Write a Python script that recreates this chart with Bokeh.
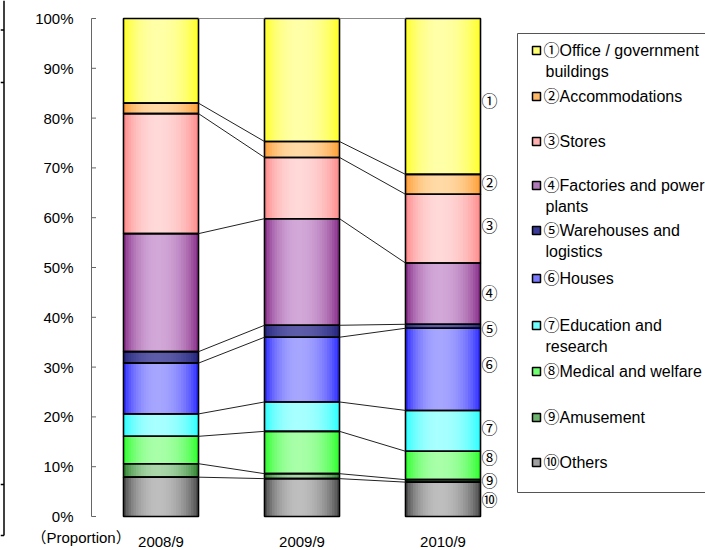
import numpy as np
from bokeh.plotting import figure
from bokeh.models import Range1d, ColumnDataSource
from bokeh.core.properties import value
from bokeh.embed import file_html
from bokeh.resources import INLINE

# ---------------- data (percent of total) ----------------
categories = ["2008/9", "2009/9", "2010/9"]
office = [17.0, 24.7, 31.3]          # ① Office / government buildings
accommodations = [2.1, 3.2, 4.0]     # ②
stores = [24.1, 12.3, 13.8]          # ③
factories = [23.7, 21.4, 12.3]       # ④
warehouses = [2.3, 2.4, 0.8]         # ⑤
houses = [10.2, 13.0, 16.5]          # ⑥
education = [4.5, 5.9, 8.2]          # ⑦
medical = [5.5, 8.5, 5.7]            # ⑧
amusement = [2.7, 1.0, 0.5]          # ⑨
others = [7.9, 7.6, 6.9]             # ⑩

y_ticks = [0, 10, 20, 30, 40, 50, 60, 70, 80, 90, 100]
y_tick_labels = ["0%", "10%", "20%", "30%", "40%", "50%", "60%", "70%", "80%", "90%", "100%"]
y_axis_title = "（Proportion）"
circled = ["①", "②", "③", "④", "⑤", "⑥", "⑦", "⑧", "⑨", "⑩"]
legend_lines = [
    ["①Office / government", "buildings"],
    ["②Accommodations"],
    ["③Stores"],
    ["④Factories and power", "plants"],
    ["⑤Warehouses and", "logistics"],
    ["⑥Houses"],
    ["⑦Education and", "research"],
    ["⑧Medical and welfare"],
    ["⑨Amusement"],
    ["⑩Others"],
]

# series listed top (①) to bottom (⑩)
series = [office, accommodations, stores, factories, warehouses,
          houses, education, medical, amusement, others]

# ---------------- styles ----------------
edge_cols = ["#FFFF14", "#FF9526", "#FF8080", "#7E1E7E", "#1C1C78",
             "#1C1CFF", "#1CFFFF", "#1CFF1C", "#1E781E", "#3C3C3C"]
center_cols = ["#FFFFA8", "#FFDAA6", "#FFD8D8", "#D2A8D8", "#5C5CA8",
               "#A6A6FF", "#A8FFFF", "#A8FFA8", "#AAD6AA", "#BEBEBE"]
marker_cols = ["#FFFF70", "#FFB866", "#FFB0B0", "#B07AB8", "#3A3A98",
               "#7A7AFF", "#70FFFF", "#70FF70", "#6EB46E", "#A0A0A0"]

FONT = "'Liberation Sans', 'Noto Sans CJK JP'"
CJK = "'Noto Sans CJK JP'"

W, H = 705, 550
# canvas pixel -> data helpers
X0_PX, DX_PX = 160.5, 141.0      # first category centre, category spacing
Y0_PX, DY_PX = 516.0, 4.98       # 0% position, px per percent


def xd(px):
    return (px - X0_PX) / DX_PX


def yd(py):
    return (Y0_PX - py) / DY_PX


BAR_W = 75.0 / DX_PX
AXIS_X = xd(91)

p = figure(width=W, height=H, output_backend="svg", toolbar_location=None,
           x_range=Range1d(xd(0), xd(W)), y_range=Range1d(yd(H), yd(0)),
           min_border=0, min_border_left=0, min_border_right=0,
           min_border_top=0, min_border_bottom=0,
           x_axis_type=None, y_axis_type=None)
p.outline_line_color = None
p.background_fill_color = "white"
p.border_fill_color = "white"


def hex2rgb(h):
    h = h.lstrip("#")
    return np.array([int(h[i:i + 2], 16) for i in (0, 2, 4)], dtype=float)


def rgb2hex(c):
    c = np.clip(np.round(c), 0, 255).astype(int)
    return "#%02x%02x%02x" % tuple(c)


# ---------------- y axis (line, inward ticks, labels) ----------------
p.segment(x0=[AXIS_X], y0=[y_ticks[0]], x1=[AXIS_X], y1=[y_ticks[-1]],
          line_color="#666666", line_width=1)
p.segment(x0=[AXIS_X] * len(y_ticks), y0=y_ticks,
          x1=[AXIS_X + 4.5 / DX_PX] * len(y_ticks), y1=y_ticks,
          line_color="#666666", line_width=1)
p.text(x=[xd(73)] * len(y_ticks), y=y_ticks, text=y_tick_labels,
       text_font=value(FONT), text_font_size="15px", text_align="right",
       text_baseline="middle", text_color="black")
p.text(x=[xd(31)], y=[yd(537)], text=[y_axis_title], text_font=value(FONT),
       text_font_size="15px", text_align="left", text_baseline="middle",
       text_color="black")

# ---------------- stacked bars ----------------
order = list(range(len(series)))[::-1]  # bottom (⑩) .. top (①)
n_cat = len(categories)
bottoms, tops = {}, {}
for i in range(n_cat):
    acc = 0.0
    for s in order:
        bottoms[(s, i)] = acc
        acc += series[s][i]
        tops[(s, i)] = acc

# gradient strips (each strip runs to the bar's right edge; later ones overlap)
N = 30
L, R, B, T, C = [], [], [], [], []
for i in range(n_cat):
    left = i - BAR_W / 2
    for s in order:
        e = hex2rgb(edge_cols[s])
        c = hex2rgb(center_cols[s])
        for k in range(N):
            t = (k + 0.5) / N
            cen = 0.45
            half = cen if t < cen else 1 - cen
            f = 1 - ((t - cen) / half) ** 2
            f = max(f, 0.0) ** 0.75
            L.append(left + k * BAR_W / N)
            R.append(i + BAR_W / 2)
            B.append(bottoms[(s, i)])
            T.append(tops[(s, i)])
            C.append(rgb2hex(e + (c - e) * f))
strip_src = ColumnDataSource(dict(left=L, right=R, bottom=B, top=T, color=C))
p.quad(left="left", right="right", bottom="bottom", top="top", fill_color="color",
       line_color=None, source=strip_src)

# segment outlines
OL, OR, OB, OT = [], [], [], []
for i in range(n_cat):
    for s in order:
        OL.append(i - BAR_W / 2)
        OR.append(i + BAR_W / 2)
        OB.append(bottoms[(s, i)])
        OT.append(tops[(s, i)])
p.quad(left=OL, right=OR, bottom=OB, top=OT, fill_color=None,
       line_color="black", line_width=1.6)

# series lines between bars
SX0, SX1, SY0, SY1, SC = [], [], [], [], []
for i in range(n_cat - 1):
    for s in order:
        SX0.append(i + BAR_W / 2)
        SX1.append(i + 1 - BAR_W / 2)
        SY0.append(tops[(s, i)])
        SY1.append(tops[(s, i + 1)])
        SC.append("#888888" if s == 0 else "#222222")
p.segment(x0=SX0, y0=SY0, x1=SX1, y1=SY1, line_color=SC, line_width=1)

# category labels
p.text(x=list(range(n_cat)), y=[yd(541)] * n_cat, text=categories,
       text_font=value(FONT), text_font_size="15px", text_align="center",
       text_baseline="middle", text_color="black")

# circled labels next to the last bar
label_py = [99, 181, 224, 291, 327, 363, 426, 456, 479, 498]
p.text(x=[xd(489)] * 10, y=[yd(v) for v in label_py], text=circled,
       text_font=value(CJK), text_font_size="16px", text_align="center",
       text_baseline="middle", text_color="black")

# ---------------- legend ----------------
p.quad(left=[xd(517)], right=[xd(740)], bottom=[yd(492)], top=[yd(33)],
       fill_color=None, line_color="#555555", line_width=1)
row_py = [50, 96, 141, 185, 230, 278, 325, 371, 417, 462]
line_gap = 21
p.scatter(x=[xd(536)] * 10, y=[yd(v) for v in row_py], marker="square", size=8,
          fill_color=marker_cols, line_color="black", line_width=1.5)
tx, ty, tt = [], [], []
for r, lines in zip(row_py, legend_lines):
    for j, ln in enumerate(lines):
        tx.append(xd(543 if j == 0 else 545))
        ty.append(yd(r + j * line_gap))
        tt.append(ln)
p.text(x=tx, y=ty, text=tt, text_font=value(FONT), text_font_size="16px",
       text_align="left", text_baseline="middle", text_color="black")

# fragment of a neighbouring frame visible at the left edge of the reference
p.segment(x0=[xd(3.5), xd(0), xd(0), xd(0), xd(0)],
          y0=[yd(0), yd(29.5), yd(82), yd(484), yd(535)],
          x1=[xd(3.5), xd(3.5), xd(3.5), xd(3.5), xd(3.5)],
          y1=[yd(535), yd(29.5), yd(82), yd(484), yd(535)],
          line_color="black", line_width=1.5)

open("out.html", "w").write(file_html(p, INLINE))
